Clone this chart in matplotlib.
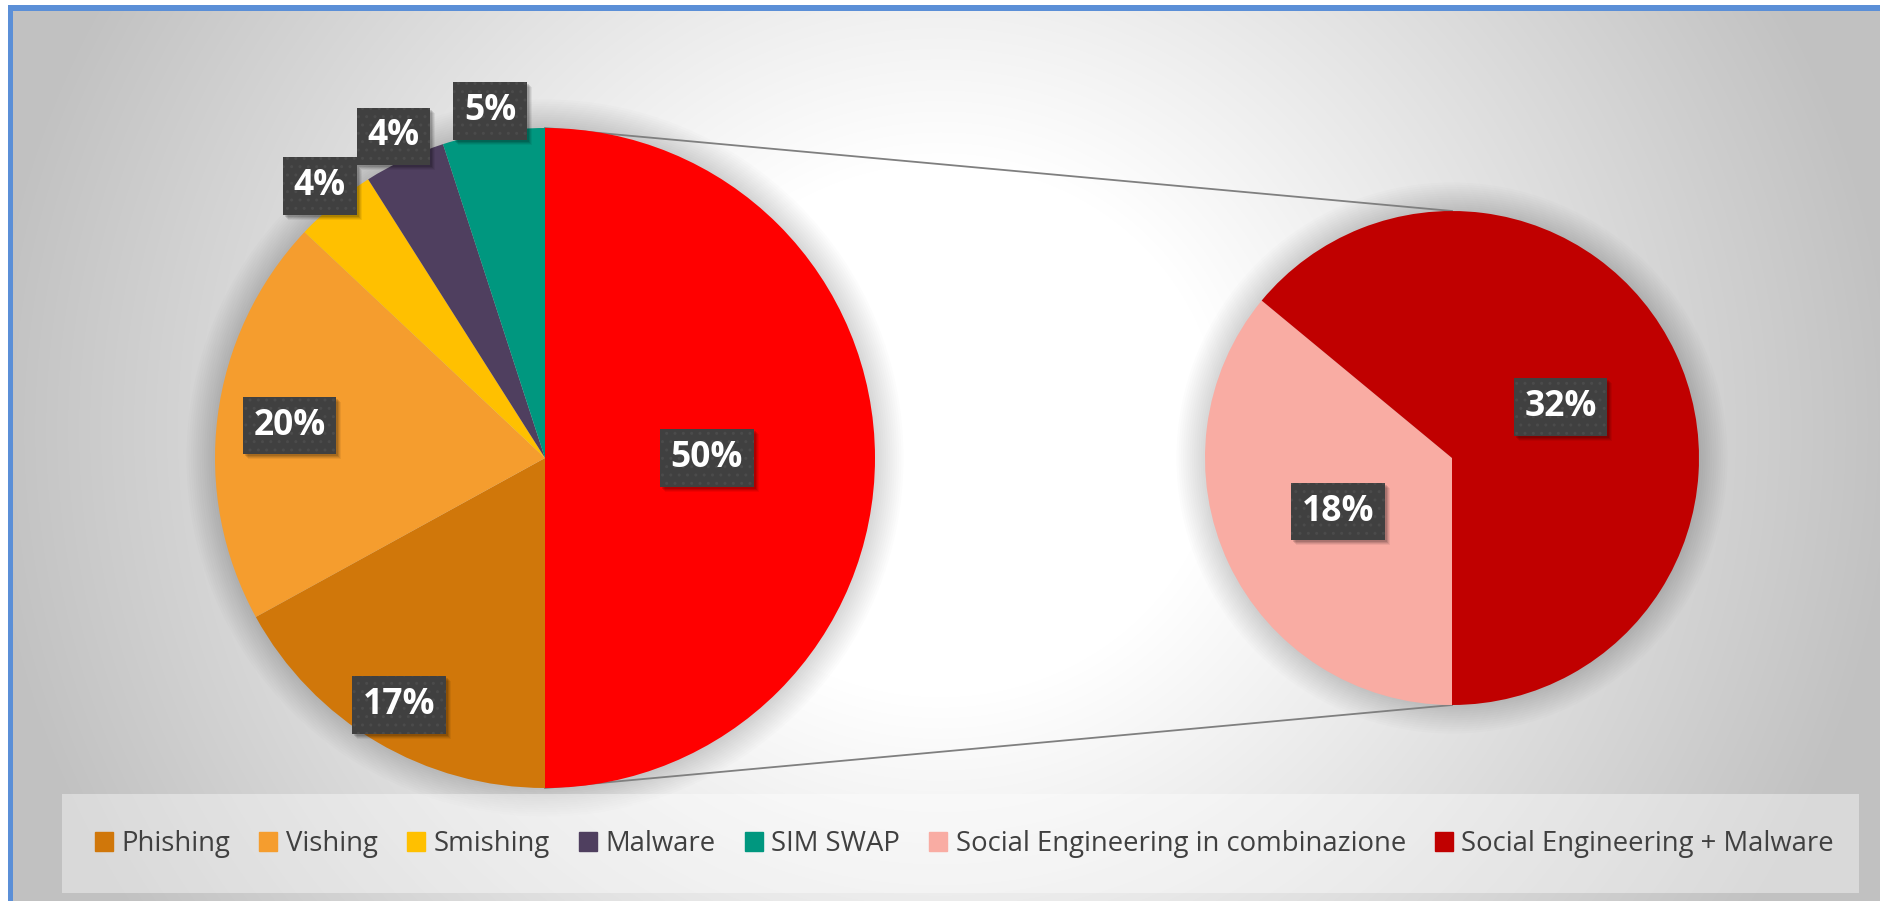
import numpy as np
import matplotlib
matplotlib.use('Agg')
import matplotlib.pyplot as plt
from matplotlib.patches import Patch, Rectangle, Circle

# data
categories = ['Phishing', 'Vishing', 'Smishing', 'Malware', 'SIM SWAP']
values = [17, 20, 4, 4, 5]
sub_categories = ['Social Engineering in combinazione', 'Social Engineering + Malware']
sub_values = [18, 32]

colors = ['#D0770A', '#F59D2E', '#FFC000', '#4F3F5F', '#00977F']
other_color = '#FF0000'
sub_colors = ['#F9ACA3', '#C00000']

plt.rcParams['font.family'] = ['Open Sans', 'DejaVu Sans']

W, H = 1880, 901
fig = plt.figure(figsize=(W / 100, H / 100), dpi=100)
ax = fig.add_axes([0, 0, 1, 1])

# radial grey background + blue frame (top / left only, image is cropped)
yy, xx = np.mgrid[0:H, 0:W]
d = np.hypot(xx - 940, (yy - 430) * 1.05)
g = (255 - 62 * np.clip((d - 280) / 680, 0, 1)) / 255
img = np.dstack([g, g, g])
blue = np.array([91, 143, 215]) / 255
img[:5, :] = 1
img[:, :8] = 1
img[5:11, 8:] = blue
img[5:, 8:13] = blue
ax.imshow(img, extent=(0, W, 0, H), origin='upper', zorder=0, interpolation='bilinear')

# pie geometry (pixels, y up)
c1, r1 = (545, 443), 330
c2, r2 = (1452, 443), 247

# soft shadow under both pies
for (cx, cy), r in [(c1, r1), (c2, r2)]:
    for k in range(14):
        ax.add_patch(Circle((cx, cy), r + 2.2 * k, color='k', alpha=0.011, lw=0, zorder=1))

main_vals = values + [sum(sub_values)]
w1, _ = ax.pie(main_vals, colors=colors + [other_color], startangle=-90, counterclock=False,
               center=c1, radius=r1, frame=True, wedgeprops=dict(linewidth=0, zorder=2))
w2, _ = ax.pie(sub_values, colors=sub_colors, startangle=-90, counterclock=False,
               center=c2, radius=r2, frame=True, wedgeprops=dict(linewidth=0, zorder=2))

# connector lines
ax.plot([c1[0], c2[0]], [c1[1] + r1, c2[1] + r2], color='#7f7f7f', lw=1.3, zorder=1.5)
ax.plot([c1[0], c2[0]], [c1[1] - r1, c2[1] - r2], color='#7f7f7f', lw=1.3, zorder=1.5)

labels_txt = []


def put_labels(wedges, vals, center, radius, dists):
    for w, v, dist in zip(wedges, vals, dists):
        ang = np.deg2rad((w.theta1 + w.theta2) / 2)
        x = center[0] + dist * radius * np.cos(ang)
        y = center[1] + dist * radius * np.sin(ang)
        t = ax.text(x, y, f'{v}%', ha='center', va='center', color='white',
                    fontsize=25.5, fontweight='bold', zorder=5,
                    bbox=dict(boxstyle='square,pad=0.3', fc='#404040', ec='#4b4b4b',
                              lw=0, hatch='..'))
        labels_txt.append(t)


put_labels(w1, main_vals, c1, r1, [0.87, 0.78, 1.07, 1.077, 1.065, 0.49])
put_labels(w2, sub_values, c2, r2, [0.51, 0.485])

ax.set_xlim(0, W)
ax.set_ylim(0, H)
ax.axis('off')

# drop shadows under the label boxes
fig.canvas.draw()
inv = ax.transData.inverted()
for t in labels_txt:
    bb = t.get_bbox_patch().get_window_extent().transformed(inv)
    for k, a in [(5, 0.06), (4, 0.08), (3, 0.10), (2, 0.12)]:
        ax.add_patch(Rectangle((bb.x0 + k, bb.y0 - k), bb.width, bb.height,
                               fc='k', alpha=a, lw=0, zorder=4))

# legend panel
ax.add_patch(Rectangle((62, H - 893), 1797, 99, fc='white', alpha=0.4, lw=0, zorder=1))
handles = [Patch(color=c) for c in colors + sub_colors]
fs = 19.8
sq = 18 / (fs * 100 / 72)
fig.legend(handles, categories + sub_categories, loc='center',
           bbox_to_anchor=(964.5 / W, 1 - 844 / H), ncol=7, frameon=False,
           fontsize=fs, labelcolor='#404040', handlelength=sq, handleheight=sq,
           handletextpad=0.3, columnspacing=1.07)

fig.savefig('out.png', dpi=100)
